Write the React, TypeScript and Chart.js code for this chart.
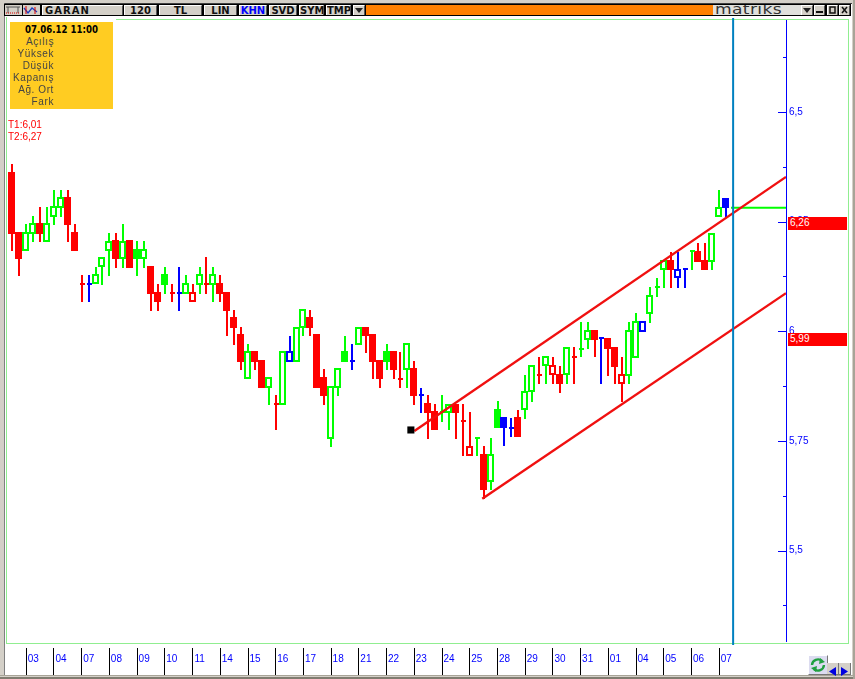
import React, { useEffect, useRef } from "react";
import { Chart, registerables } from "chart.js";

Chart.register(...registerables);

const FONT = "'Liberation Sans', Arial, sans-serif";

const dayLabels = ["03","04","07","08","09","10","11","14","15","16","17","18","21","22","23","24","25","28","29","30","31","01","04","05","06","07"];
const candlesPerDay = 4;
const firstDayIndex = 2;

const yTicks = [6.625, 6.5, 6.375, 6.25, 6.125, 6, 5.875, 5.75, 5.625, 5.5, 5.375];
const yMajorLabels: Record<string, string> = { "6.5": "6,5", "6.25": "6,25", "6": "6", "5.75": "5,75", "5.5": "5,5" };

// R/G/B filled, r/g/b hollow
const kinds = ["R","R","g","g","R","g","g","g","R","R","R","B","g","g","g","R","g","R","G","g","R","R","G","R","B","g","r","g","R","g","R","R","R","R","g","R","R","g","R","g","b","g","g","R","R","R","g","g","G","B","g","R","R","R","G","R","R","g","R","B","R","R","G","g","R","R","r","G","R","g","G","B","B","R","g","g","R","g","r","R","g","R","G","g","R","B","R","R","r","g","g","b","g","G","g","R","b","B","G","R","R","g","g","B"];
const highs = [6.381,6.226,6.245,6.263,6.283,6.283,6.322,6.322,6.322,6.245,6.128,6.128,6.147,6.17,6.224,6.224,6.245,6.208,6.206,6.206,6.149,6.108,6.147,6.108,6.147,6.128,6.108,6.147,6.17,6.147,6.128,6.09,6.049,6.01,5.971,5.955,5.935,5.896,5.855,5.955,5.989,6.01,6.051,6.049,5.994,5.914,5.875,5.916,5.989,5.971,6.01,6.01,5.994,5.935,5.971,5.955,5.952,5.973,5.932,5.871,5.855,5.834,5.855,5.834,5.834,5.834,5.816,5.757,5.739,5.757,5.841,5.805,5.802,5.821,5.9,5.923,5.941,5.944,5.941,5.921,5.964,5.964,6.021,6.021,6.003,5.985,5.985,5.964,5.941,6.021,6.042,6.024,6.101,6.122,6.163,6.181,6.181,6.142,6.183,6.201,6.201,6.224,6.322,6.304];
const lows = [6.183,6.126,6.183,6.204,6.204,6.204,6.242,6.261,6.204,6.183,6.067,6.067,6.108,6.106,6.126,6.144,6.144,6.144,6.126,6.144,6.046,6.046,6.085,6.067,6.046,6.085,6.067,6.085,6.085,6.067,6.067,5.989,5.969,5.912,5.891,5.912,5.871,5.832,5.775,5.832,5.93,5.93,5.989,5.989,5.871,5.832,5.736,5.852,5.93,5.912,5.969,5.951,5.891,5.871,5.912,5.891,5.871,5.871,5.832,5.814,5.754,5.775,5.793,5.775,5.754,5.716,5.716,5.716,5.618,5.638,5.78,5.739,5.759,5.759,5.8,5.839,5.88,5.88,5.88,5.859,5.88,5.88,5.941,5.96,5.941,5.88,5.898,5.88,5.839,5.88,5.939,5.998,6.019,6.078,6.099,6.099,6.099,6.099,6.14,6.158,6.14,6.14,6.261,6.261];
const bodyTops = [6.364,6.226,6.226,6.247,6.247,6.247,6.286,6.306,6.306,6.226,6.108,6.108,6.131,6.17,6.206,6.208,6.206,6.208,6.188,6.188,6.149,6.09,6.131,6.087,6.087,6.11,6.09,6.131,6.108,6.131,6.11,6.09,6.033,5.994,5.955,5.955,5.935,5.896,5.834,5.955,5.955,6.01,6.051,6.033,5.994,5.896,5.875,5.916,5.955,5.932,6.01,6.01,5.994,5.935,5.955,5.955,5.891,5.973,5.916,5.855,5.837,5.818,5.816,5.834,5.834,5.795,5.739,5.757,5.72,5.72,5.823,5.805,5.78,5.805,5.864,5.923,5.9,5.944,5.923,5.903,5.964,5.941,5.96,6.003,6.003,5.985,5.985,5.964,5.903,6.003,6.024,6.024,6.083,6.101,6.163,6.163,6.142,6.142,6.183,6.183,6.163,6.224,6.283,6.304];
const bodyBottoms = [6.222,6.165,6.183,6.222,6.222,6.204,6.261,6.281,6.242,6.183,6.108,6.108,6.108,6.147,6.183,6.165,6.165,6.144,6.165,6.165,6.085,6.067,6.106,6.087,6.087,6.085,6.067,6.106,6.108,6.106,6.085,6.046,6.008,5.93,5.891,5.93,5.871,5.871,5.834,5.832,5.93,5.93,6.008,6.008,5.871,5.852,5.754,5.871,5.93,5.932,5.969,5.989,5.93,5.891,5.93,5.912,5.891,5.912,5.852,5.855,5.814,5.775,5.816,5.814,5.814,5.795,5.716,5.757,5.638,5.656,5.78,5.78,5.78,5.759,5.821,5.862,5.9,5.921,5.9,5.88,5.9,5.941,5.96,5.98,5.98,5.985,5.96,5.919,5.88,5.898,5.939,5.998,6.039,6.101,6.14,6.14,6.122,6.142,6.183,6.158,6.14,6.158,6.261,6.281];

const upperTrendStart = { x: 58, y: 5.7727 };
const upperTrendEnd = { x: 111.63, y: 6.352 };
const lowerTrendStart = { x: 67.8, y: 5.618 };
const lowerTrendEnd = { x: 111.63, y: 6.087 };
const lastPriceLine = [{ x: 103.7, y: 6.2818 }, { x: 111.63, y: 6.2818 }];
const cursorLine = [{ x: 104, y: 6.72 }, { x: 104, y: 5.2845 }];
const anchorPoint = [{ x: 57.5, y: 5.775 }];

const xMin = -0.779;
const xMax = 111.63;
const yMin = 5.2779;
const yMax = 6.7143;

const infoRows = ["Açılış", "Yüksek", "Düşük", "Kapanış", "Ağ. Ort", "Fark"];
const priceBoxes = [{ label: "6,26", top: 217 }, { label: "5,99", top: 333 }];
const toolButtons = [
  { t: "120", x: 124, w: 33 }, { t: "TL", x: 159, w: 43 }, { t: "LIN", x: 204, w: 33 },
  { t: "KHN", x: 239, w: 28, blue: true }, { t: "SVD", x: 269, w: 28 }, { t: "SYM", x: 299, w: 25 }, { t: "TMP", x: 326, w: 25 },
];

const colorOf = (k: string) => ({ r: "#ff0000", g: "#00ff00", b: "#0000ff" } as any)[k.toLowerCase()];
const idx = kinds.map((_, i) => i);
const isDoji = (i: number) => bodyTops[i] === bodyBottoms[i];
const bodyIdx = idx.filter((i) => !isDoji(i));
const dojiIdx = idx.filter(isDoji);
const dayTicks = dayLabels.map((_, d) => firstDayIndex + d * candlesPerDay);

const snapPlugin = {
  id: "snap",
  beforeDatasetsDraw(chart: any) {
    chart.data.datasets.forEach((ds: any, n: number) => {
      if (ds.type !== "bar") return;
      chart.getDatasetMeta(n).data.forEach((el: any) => {
        el.x = Math.round(el.x) + ds.snapX;
        el.y = Math.round(el.y);
        el.base = Math.round(el.base);
      });
    });
  },
};

const axisPlugin = {
  id: "priceAxis",
  afterDatasetsDraw(chart: any) {
    const { ctx, scales } = chart;
    const y = scales.y;
    const ax = scales.x.right;
    ctx.save();
    ctx.fillStyle = "#0000ff";
    ctx.fillRect(ax, 20, 1, 622);
    y.ticks.forEach((t: any) => {
      const p = Math.round(y.getPixelForValue(t.value));
      const major = yMajorLabels[String(t.value)] !== undefined;
      ctx.fillRect(major ? ax - 8 : ax - 3, p, major ? 8 : 3, 1);
    });
    ctx.restore();
  },
};

function Btn({ x, w, children, color, spacing }: any) {
  return (
    <div style={{ position: "absolute", left: x, top: 5, width: w, height: 10, background: "#d4d0c8", borderTop: "1px solid #fff", borderLeft: "1px solid #fff", borderRight: "1px solid #555", boxSizing: "border-box", font: "bold 10px 'DejaVu Sans', sans-serif", lineHeight: "10px", textAlign: "center", color: color || "#111", letterSpacing: spacing || 0, overflow: "hidden", whiteSpace: "nowrap" }}>{children}</div>
  );
}

export default function App() {
  const ref = useRef<HTMLCanvasElement | null>(null);
  useEffect(() => {
    document.body.style.margin = "0";
    const chart = new Chart(ref.current as any, {
      type: "bar",
      plugins: [snapPlugin, axisPlugin],
      data: {
        datasets: [
          { type: "bar", label: "Fitil", snapX: 0, order: 10, grouped: false, barThickness: 2, inflateAmount: 0, borderWidth: 0, data: idx.map((i) => ({ x: i, y: [lows[i], highs[i]] })), backgroundColor: idx.map((i) => colorOf(kinds[i])) },
          { type: "bar", label: "Gövde", snapX: -0.5, order: 9, grouped: false, barThickness: 7, inflateAmount: 0, borderWidth: 2, borderSkipped: false, data: bodyIdx.map((i) => ({ x: i, y: [bodyBottoms[i], bodyTops[i]] })), borderColor: bodyIdx.map((i) => colorOf(kinds[i])), backgroundColor: bodyIdx.map((i) => (kinds[i] === kinds[i].toLowerCase() ? "#ffffff" : colorOf(kinds[i]))) },
          { type: "bar", label: "Doji", snapX: 0.5, order: 8, grouped: false, barThickness: 5, inflateAmount: 0, borderWidth: 0, data: dojiIdx.map((i) => ({ x: i, y: [bodyTops[i] - 0.0023, bodyTops[i] + 0.0023] })), backgroundColor: dojiIdx.map((i) => colorOf(kinds[i])) },
          { type: "line", label: "Son", order: 5, data: lastPriceLine, borderColor: "#00ff00", borderWidth: 2, pointRadius: 0 },
          { type: "line", label: "T1", order: 4, data: [lowerTrendStart, lowerTrendEnd], borderColor: "#f01010", borderWidth: 2.4, pointRadius: 0 },
          { type: "line", label: "T2", order: 4, data: [upperTrendStart, upperTrendEnd], borderColor: "#f01010", borderWidth: 2.4, pointRadius: 0 },
          { type: "line", label: "İmleç", order: 3, data: cursorLine, borderColor: "#0080c0", borderWidth: 2, pointRadius: 0 },
          { type: "scatter", label: "Nokta", order: 3, data: anchorPoint, backgroundColor: "#000000", borderWidth: 0, pointStyle: "rect", pointRadius: 5 },
        ] as any,
      },
      options: {
        animation: false,
        responsive: false,
        devicePixelRatio: 1,
        layout: { padding: { left: 7, top: 18, right: 0, bottom: 0 } },
        plugins: { legend: { display: false }, tooltip: { enabled: false } },
        scales: {
          x: {
            type: "linear",
            min: xMin,
            max: xMax,
            offset: false,
            border: { display: false },
            grid: { offset: false, drawOnChartArea: false, drawTicks: true, tickLength: 27, color: "#000000", tickColor: "#000000", lineWidth: 1 } as any,
            afterBuildTicks: (a: any) => { a.ticks = dayTicks.map((value) => ({ value })); },
            afterFit: (a: any) => { a.height = 31; },
            ticks: {
              autoSkip: false,
              maxRotation: 0,
              padding: -22,
              labelOffset: 7,
              color: "#0000ff",
              font: { family: "Liberation Sans", size: 10 },
              callback: (v: any) => dayLabels[Math.round((Number(v) - firstDayIndex) / candlesPerDay)] ?? "",
            },
          },
          y: {
            type: "linear",
            position: "right",
            min: yMin,
            max: yMax,
            border: { display: false },
            grid: { drawOnChartArea: false, drawTicks: false },
            afterBuildTicks: (a: any) => { a.ticks = yTicks.map((value) => ({ value })); },
            afterFit: (a: any) => { a.width = 69; },
            ticks: {
              autoSkip: false,
              padding: 3,
              color: "#0000ff",
              font: { family: "Liberation Sans", size: 10 },
              callback: (v: any) => yMajorLabels[String(v)] ?? "",
            },
          },
        },
      } as any,
    });
    return () => chart.destroy();
  }, []);

  return (
    <div style={{ position: "absolute", left: 0, top: 0, width: 855, height: 679, overflow: "hidden", background: "#d4d0c8", fontFamily: FONT }}>
      {/* window edges */}
      <div style={{ position: "absolute", left: 4, top: 3, width: 847, height: 672, background: "#ffffff", borderLeft: "1px solid #808080", borderTop: "1px solid #404040" }} />
      <div style={{ position: "absolute", left: 0, top: 675, width: 855, height: 1, background: "#a8a498" }} />
      <div style={{ position: "absolute", left: 0, top: 677, width: 855, height: 2, background: "#807c70" }} />
      <div style={{ position: "absolute", left: 853, top: 0, width: 2, height: 679, background: "#a8a498" }} />

      {/* toolbar */}
      <div style={{ position: "absolute", left: 4, top: 4, width: 847, height: 12, background: "#000" }} />
      <div style={{ position: "absolute", left: 5, top: 5, width: 17, height: 10, background: "#d4d0c8" }} />
      <svg style={{ position: "absolute", left: 5, top: 5 }} width="17" height="10"><path d="M1 2H15M3 2V8M13 2V8" stroke="#555" fill="none" /><path d="M1 8H15" stroke="#d00" strokeDasharray="1 1" /></svg>
      <div style={{ position: "absolute", left: 23, top: 5, width: 17, height: 10, background: "#d4d0c8" }} />
      <svg style={{ position: "absolute", left: 23, top: 5 }} width="17" height="10"><path d="M1 3L5 8L9 3L14 7" stroke="#2040c0" strokeWidth="1.4" fill="none" /><path d="M3 1V9M12 2V9" stroke="#d00" /></svg>
      <Btn x={42} w={81} spacing="1px"><div style={{ textAlign: "left", paddingLeft: 2 }}>GARAN</div></Btn>
      {toolButtons.map((b) => <Btn key={b.t} x={b.x} w={b.w} color={b.blue ? "#0000ff" : undefined}>{b.t}</Btn>)}
      <Btn x={353} w={12} ><svg width="8" height="5" style={{ verticalAlign: "top", marginTop: 2 }}><path d="M0 0H8L4 5Z" fill="#222" /></svg></Btn>
      <div style={{ position: "absolute", left: 366, top: 5, width: 347, height: 10, background: "#ff8000" }} />
      <div style={{ position: "absolute", left: 713, top: 5, width: 88, height: 10, background: "#e0e0dc", overflow: "hidden" }}>
        <div style={{ position: "absolute", left: 2, top: -4, font: "14px 'DejaVu Sans', sans-serif", lineHeight: "16px", color: "#333", letterSpacing: "0.3px", transform: "scaleX(1.22)", transformOrigin: "left center", whiteSpace: "nowrap" }}>matriks</div>
      </div>
      <Btn x={801} w={12}><svg width="8" height="5" style={{ verticalAlign: "top", marginTop: 2 }}><path d="M0 0H8L4 5Z" fill="#222" /></svg></Btn>
      <Btn x={814} w={11}><svg width="7" height="8" style={{ verticalAlign: "top" }}><path d="M0 6H7" stroke="#111" strokeWidth="2" /></svg></Btn>
      <Btn x={827} w={11}><svg width="7" height="8" style={{ verticalAlign: "top" }}><rect x="1" y="1" width="5" height="6" stroke="#111" strokeWidth="1.5" fill="none" /></svg></Btn>
      <Btn x={839} w={11}><svg width="7" height="8" style={{ verticalAlign: "top" }}><path d="M1 1L6 7M6 1L1 7" stroke="#111" strokeWidth="1.5" /></svg></Btn>

      {/* green chart frame */}
      <div style={{ position: "absolute", left: 116, top: 19, width: 733, height: 1, background: "#90ee90" }} />
      <div style={{ position: "absolute", left: 6, top: 17, width: 1, height: 627, background: "#90ee90" }} />
      <div style={{ position: "absolute", left: 848, top: 19, width: 1, height: 625, background: "#90ee90" }} />
      <div style={{ position: "absolute", left: 6, top: 643, width: 843, height: 1, background: "#90ee90" }} />

      <canvas ref={ref} width={855} height={679} style={{ position: "absolute", left: 0, top: 0, width: 855, height: 679 }} />

      {/* info box */}
      <div style={{ position: "absolute", left: 10, top: 22, width: 103, height: 87, background: "#ffcc22" }} />
      <div style={{ position: "absolute", left: 10, top: 23, width: 103, textAlign: "center", font: "bold 10px 'DejaVu Sans', sans-serif", color: "#000", lineHeight: "13px", transform: "scaleX(0.86)" }}>07.06.12 11:00</div>
      {infoRows.map((r, i) => (
        <div key={r} style={{ position: "absolute", left: 10, top: 36 + i * 12, width: 44, textAlign: "right", font: "10px 'Liberation Sans', sans-serif", letterSpacing: "0.6px", color: "#444", lineHeight: "12px", whiteSpace: "nowrap", direction: "ltr" }}>{r}</div>
      ))}
      <div style={{ position: "absolute", left: 8, top: 119, font: "10px 'Liberation Sans', sans-serif", color: "#ff0000", lineHeight: "12px" }}>T1:6,01</div>
      <div style={{ position: "absolute", left: 8, top: 131, font: "10px 'Liberation Sans', sans-serif", color: "#ff0000", lineHeight: "12px" }}>T2:6,27</div>

      {/* price boxes */}
      {priceBoxes.map((b) => (
        <div key={b.label} style={{ position: "absolute", left: 788, top: b.top, width: 59, height: 13, background: "#ff0000", color: "#ffffff", font: "10px 'Liberation Sans', sans-serif", lineHeight: "12px", paddingLeft: 2, boxSizing: "border-box" }}>{b.label}</div>
      ))}

      {/* bottom-right controls */}
      <div style={{ position: "absolute", left: 808, top: 655, width: 18, height: 18, background: "#dcdcf0", borderTop: "1px solid #fff", borderLeft: "1px solid #fff", borderRight: "1px solid #777", borderBottom: "1px solid #777" }}>
        <svg width="18" height="18"><path d="M3 9A6 6 0 0 1 13 5" stroke="#20a040" strokeWidth="2.4" fill="none" /><path d="M15 9A6 6 0 0 1 5 13" stroke="#20a040" strokeWidth="2.4" fill="none" /><path d="M11 2L16 6L10 8Z" fill="#20a040" /><path d="M7 16L2 12L8 10Z" fill="#20a040" /></svg>
      </div>
      {[827, 839].map((x, i) => (
        <div key={x} style={{ position: "absolute", left: x, top: 663, width: 11, height: 11, background: "#d4d0c8", borderRight: "1px solid #777", borderBottom: "1px solid #777" }}>
          <svg width="11" height="11"><path d={i === 0 ? "M9 1V10L2 5.5Z" : "M2 1V10L9 5.5Z"} fill="#0000e0" /></svg>
        </div>
      ))}
    </div>
  );
}
